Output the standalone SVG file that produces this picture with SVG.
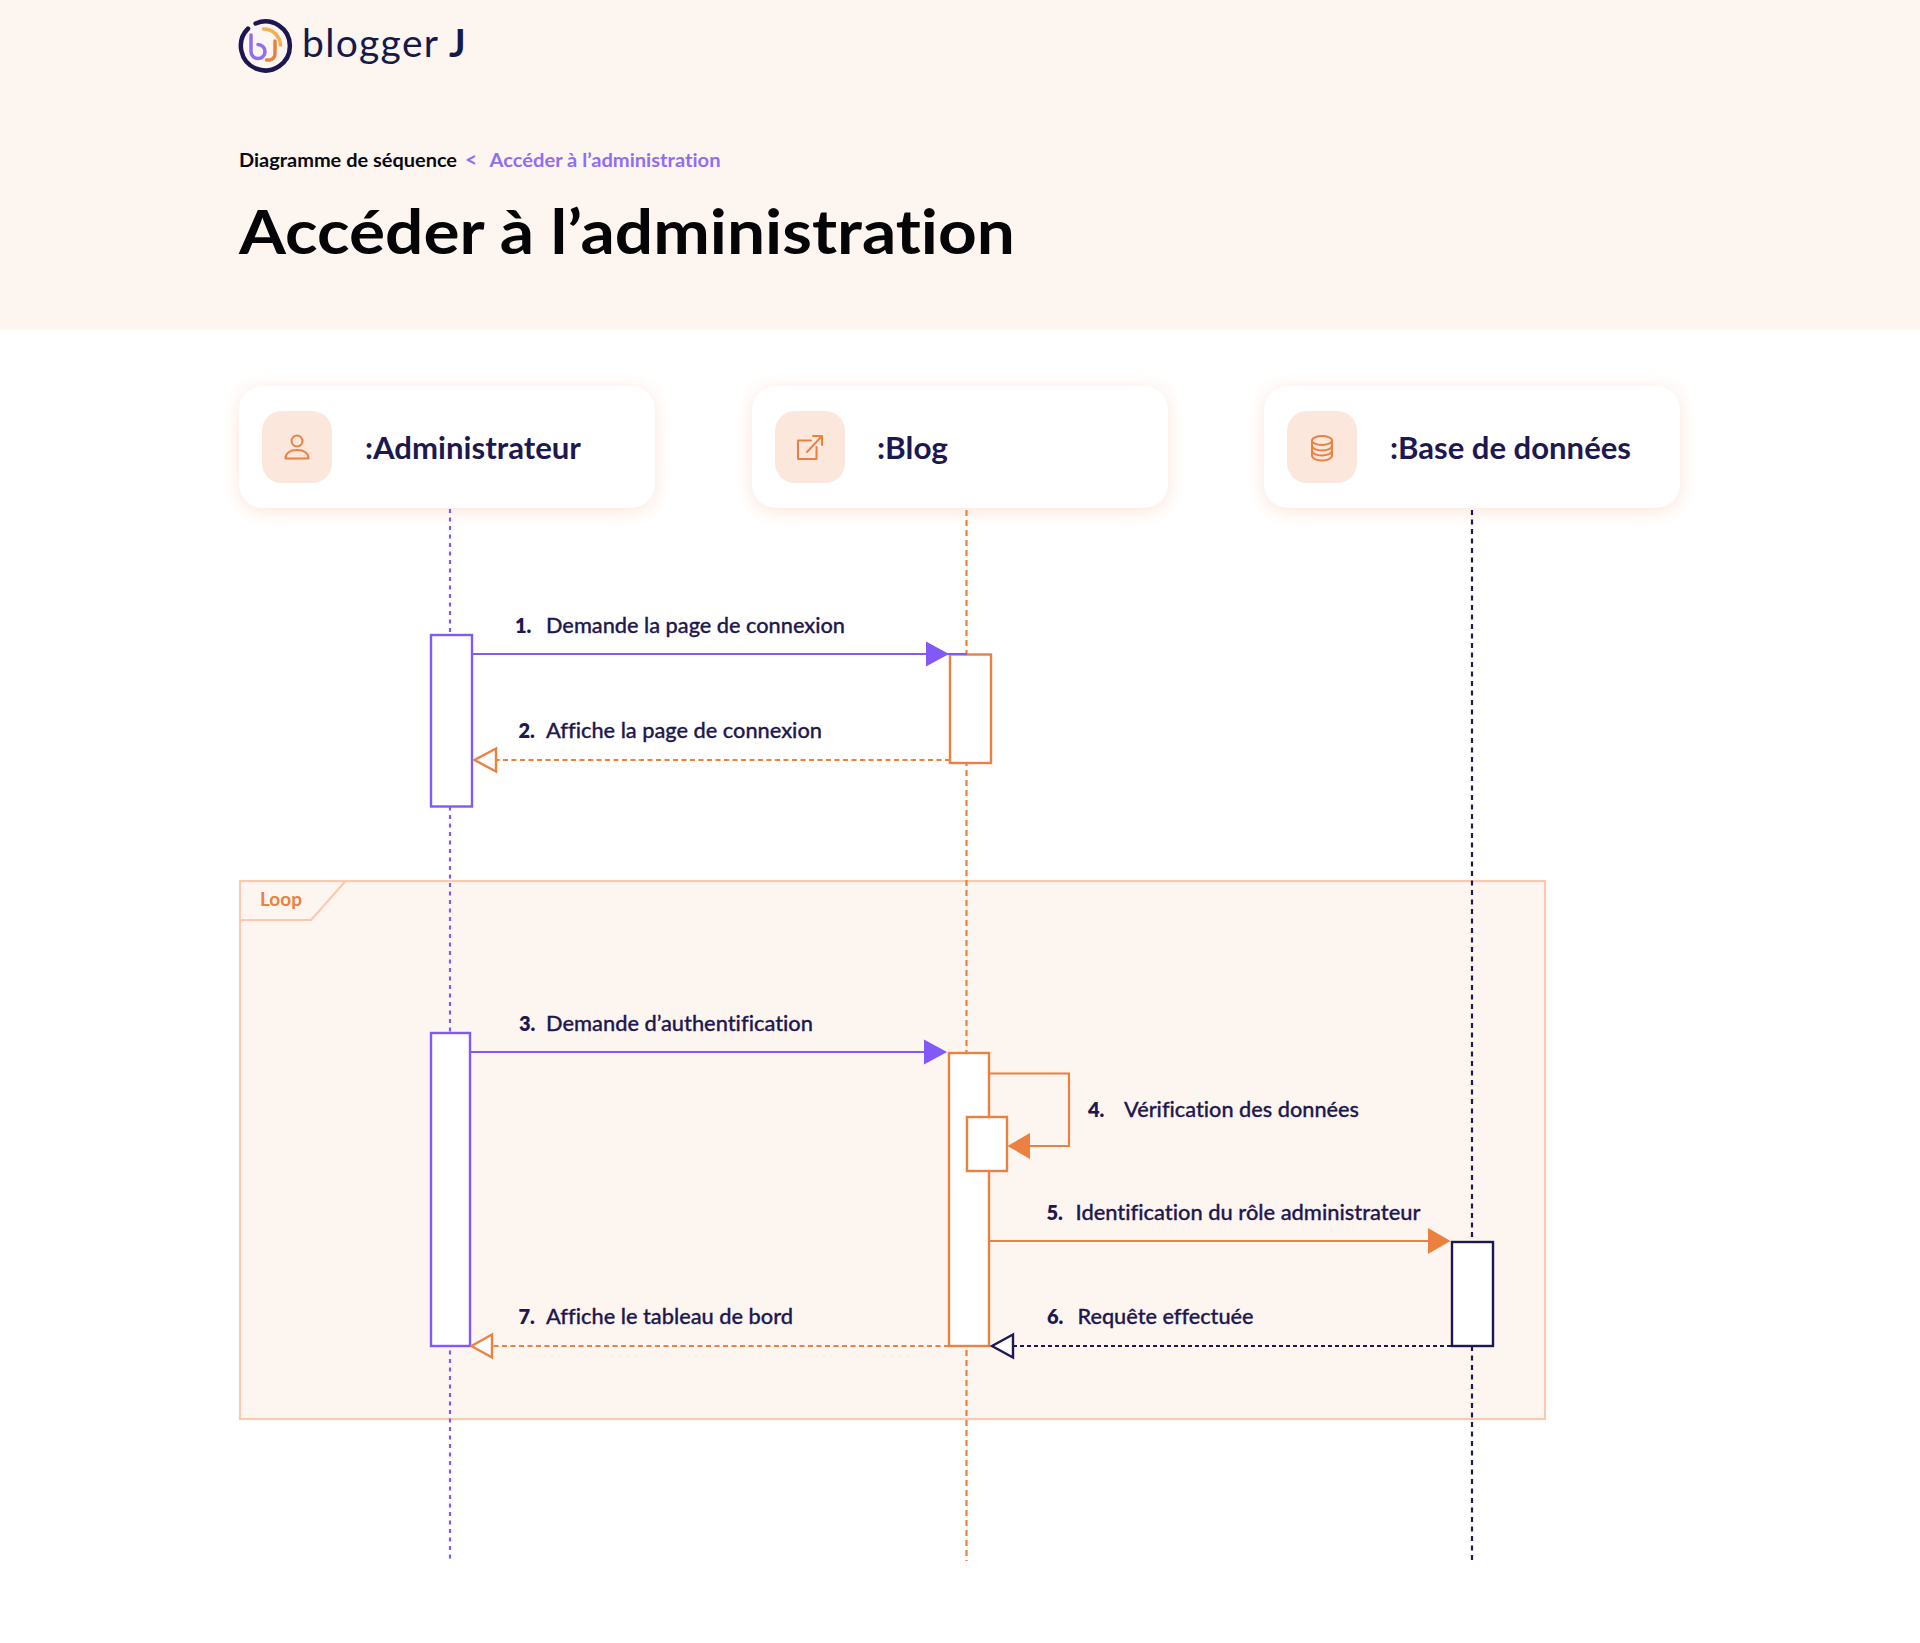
<svg xmlns="http://www.w3.org/2000/svg" width="1920" height="1643" viewBox="0 0 1920 1643">
<style>
text{font-family:"Lato","Noto Sans","Liberation Sans",sans-serif;font-variant-ligatures:none}
.msg{font-size:21.5px;font-weight:500;fill:#1e1850;stroke:#1e1850;stroke-width:.3}
.num{font-size:20px;font-weight:800;fill:#1e1850}
.lbl{font-size:30px;font-weight:700;fill:#1e1850}
.card{fill:#fff;filter:url(#sh)}
.ib{fill:#fbe7dc}
.ic{fill:none;stroke:#ec8040;stroke-width:2;stroke-linecap:round;stroke-linejoin:round}
.ll{fill:none;stroke-width:2.2}
.box{fill:#fff;stroke-width:2.4}
.p{stroke:#8259f7}.o{stroke:#ec8040}.n{stroke:#1e1850}
.ln{fill:none;stroke-width:2.2}
.hd{fill:#fff;stroke-width:2.4;stroke-linejoin:miter}
</style>
<defs>
<filter id="sh" x="-15%" y="-30%" width="130%" height="160%"><feDropShadow dx="0" dy="3" stdDeviation="9" flood-color="#fbdcc9" flood-opacity="0.75"/></filter>
</defs>
<rect id="header-bg" x="0" y="0" width="1920" height="329.5" fill="#fdf5f0"/>
<g id="logo">
<path d="M255.6 23.5A24.5 24.5 0 1 1 248 28.7" fill="none" stroke="#1d1650" stroke-width="4.5" stroke-linecap="round"/>
<path d="M251 35V51.5A7 7 0 1 0 258 44.5" fill="none" stroke="#8f6ef5" stroke-width="3.5" stroke-linecap="round"/>
<path d="M275 41V54A6 6 0 0 1 269 60H266.5" fill="none" stroke="#ec8040" stroke-width="3.5" stroke-linecap="round"/>
<path d="M263.5 29A17 17 0 0 1 280.5 45" fill="none" stroke="#f5ae55" stroke-width="3.5" stroke-linecap="round"/>
<text x="302" y="57" font-size="39" fill="#141a4b" textLength="136" lengthAdjust="spacing">blogger</text>
<text x="449" y="57" font-size="39" font-weight="700" fill="#141a4b">J</text>
</g>
<g id="breadcrumb">
<text x="239" y="167" font-size="18.5" font-weight="700" fill="#0a0a14" textLength="218" lengthAdjust="spacingAndGlyphs">Diagramme de séquence</text>
<text x="465" y="167" font-size="21" font-weight="700" fill="#8f6ef5">&lt;</text>
<text x="489.5" y="167" font-size="18.5" font-weight="700" fill="#8f6ef5" textLength="231" lengthAdjust="spacingAndGlyphs">Accéder à l’administration</text>
</g>
<text id="title" x="239" y="254" font-size="62" font-weight="700" fill="#050508" textLength="776" lengthAdjust="spacingAndGlyphs">Accéder à l’administration</text>
<g id="loop">
<rect x="240" y="881" width="1305" height="538" fill="#fdf5f0" stroke="#fdc9ae" stroke-width="2.2"/>
<path d="M240 920H311L345.7 881" fill="none" stroke="#fdc9ae" stroke-width="2.2"/>
<text x="260" y="905.5" font-size="18.5" font-weight="700" fill="#ec8040" textLength="42" lengthAdjust="spacingAndGlyphs">Loop</text>
</g>
<g id="node-administrateur">
<rect class="card" x="239" y="386" width="416" height="122" rx="24"/>
<rect class="ib" x="262" y="411" width="70" height="72" rx="20"/>
<circle class="ic" cx="297" cy="441" r="5.5"/>
<path class="ic" d="M285.5 458.5C285.5 453 290 450 297 450S308.5 453 308.5 458.5Z"/>
<text class="lbl" x="365" y="459" textLength="216" lengthAdjust="spacingAndGlyphs">:Administrateur</text>
</g>
<g id="node-blog">
<rect class="card" x="752" y="386" width="416" height="122" rx="24"/>
<rect class="ib" x="775" y="411" width="70" height="72" rx="20"/>
<path class="ic" d="M811 440.5H798V459H816.5V447M807 452L822 436M813 436H822V445"/>
<text class="lbl" x="877" y="459" textLength="71" lengthAdjust="spacingAndGlyphs">:Blog</text>
</g>
<g id="node-base">
<rect class="card" x="1264" y="386" width="416" height="122" rx="24"/>
<rect class="ib" x="1287" y="411" width="70" height="72" rx="20"/>
<ellipse class="ic" cx="1322" cy="440.5" rx="10" ry="4.5"/>
<path class="ic" d="M1312 440.5V455.5C1312 458.5 1316.5 460.5 1322 460.5S1332 458.5 1332 455.5V440.5M1312 445.5C1312 448.5 1316.5 450.5 1322 450.5S1332 448.5 1332 445.5M1312 450.5C1312 453.5 1316.5 455.5 1322 455.5S1332 453.5 1332 450.5"/>
<text class="lbl" x="1390" y="459" textLength="241" lengthAdjust="spacingAndGlyphs">:Base de données</text>
</g>
<g id="connectors">
<path class="ll p" d="M450 509V1562" stroke-dasharray="4 4.5"/>
<path class="ll o" d="M966.5 510V1561" stroke-dasharray="6 4"/>
<path class="ll n" d="M1472 510V1561" stroke-dasharray="5 4.5"/>
</g>
<g id="activations">
<rect class="box p" x="431" y="635" width="41" height="171.5"/>
<rect class="box o" x="950" y="654.5" width="41" height="108.5"/>
<rect class="box p" x="431" y="1033" width="39" height="313"/>
<rect class="box o" x="949" y="1053" width="40" height="293"/>
<rect class="box o" x="967" y="1117" width="40" height="54"/>
<rect class="box n" x="1452" y="1242" width="41" height="104"/>
</g>
<g id="messages">
<path class="ln p" d="M472 654H967"/>
<path d="M926 641.5L949 654L926 666.5Z" fill="#8259f7"/>
<path class="ln o" d="M950 760H497" stroke-dasharray="5 3.5"/>
<path class="hd o" d="M496 748.5L474.5 760L496 771.5Z"/>
<path class="ln p" d="M470 1052H926"/>
<path d="M924 1039.5L947 1052L924 1064.5Z" fill="#8259f7"/>
<path class="ln o" d="M989 1073.5H1069V1146H1030"/>
<path d="M1030 1133L1007.5 1146L1030 1159Z" fill="#ec8040"/>
<path class="ln o" d="M989 1241H1428"/>
<path d="M1428 1228L1450.5 1241L1428 1254Z" fill="#ec8040"/>
<path class="ln n" d="M1451 1346H1014" stroke-dasharray="4 3"/>
<path class="hd n" d="M1013 1334.5L992 1346L1013 1357.5Z"/>
<path class="ln o" d="M949 1346H493" stroke-dasharray="5 3.5"/>
<path class="hd o" d="M492 1334.5L471.5 1346L492 1357.5Z"/>
</g>
<g id="labels">
<text class="num" x="515" y="633">1.</text><text class="msg" x="546" y="633" textLength="299" lengthAdjust="spacingAndGlyphs">Demande la page de connexion</text>
<text class="num" x="518.5" y="738">2.</text><text class="msg" x="546" y="738" textLength="276" lengthAdjust="spacingAndGlyphs">Affiche la page de connexion</text>
<text class="num" x="519" y="1031">3.</text><text class="msg" x="546" y="1031" textLength="267" lengthAdjust="spacingAndGlyphs">Demande d’authentification</text>
<text class="num" x="1088" y="1117">4.</text><text class="msg" x="1124" y="1117" textLength="235" lengthAdjust="spacingAndGlyphs">Vérification des données</text>
<text class="num" x="1046.5" y="1220">5.</text><text class="msg" x="1075.5" y="1220" textLength="345" lengthAdjust="spacingAndGlyphs">Identification du rôle administrateur</text>
<text class="num" x="1047" y="1324">6.</text><text class="msg" x="1077.5" y="1324" textLength="176" lengthAdjust="spacingAndGlyphs">Requête effectuée</text>
<text class="num" x="518.5" y="1324">7.</text><text class="msg" x="546" y="1324" textLength="247" lengthAdjust="spacingAndGlyphs">Affiche le tableau de bord</text>
</g>
</svg>
